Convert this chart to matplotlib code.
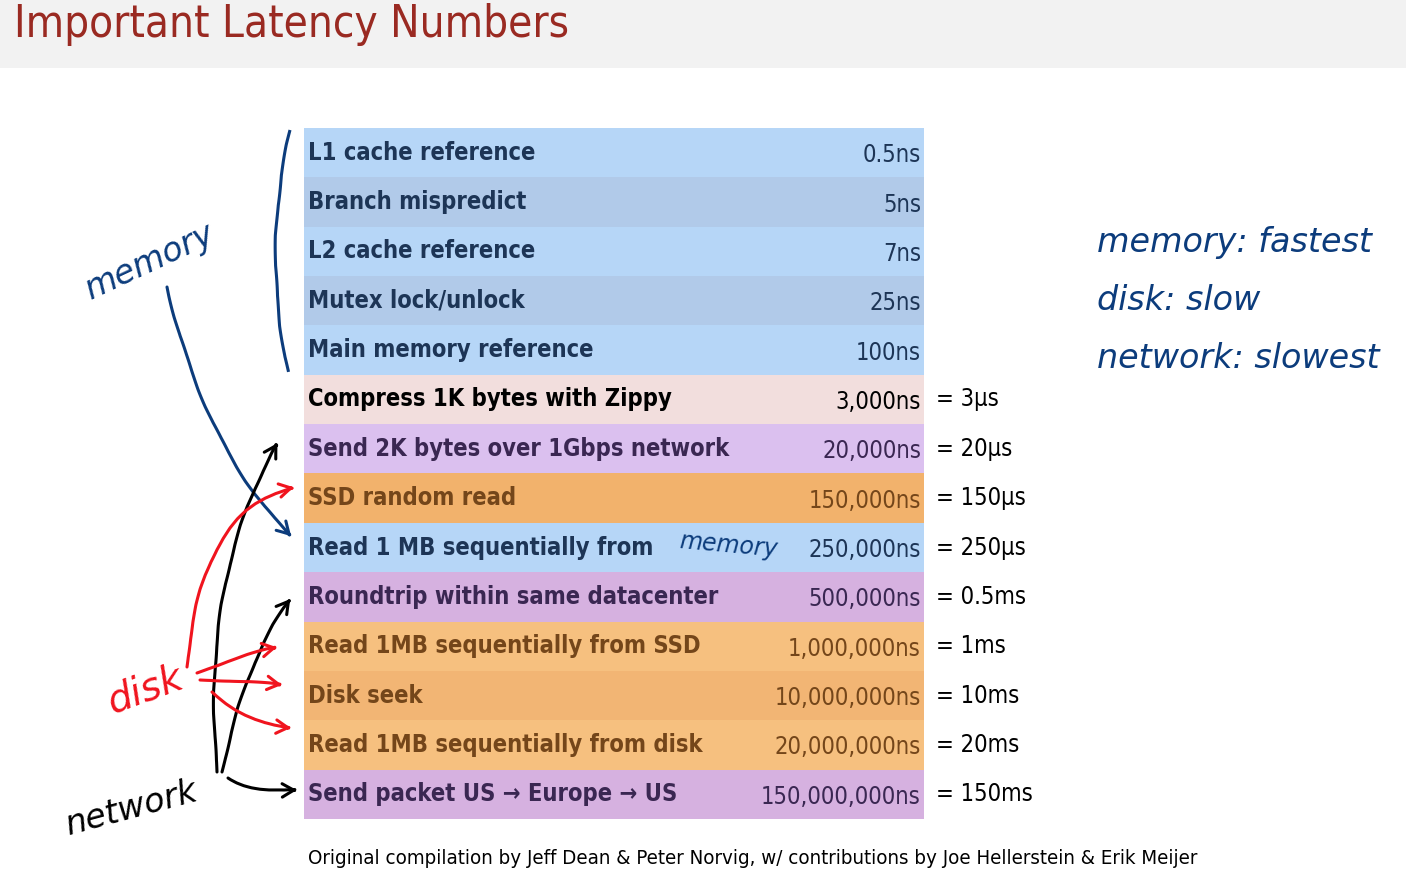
import matplotlib
matplotlib.use("Agg")
import matplotlib.pyplot as plt
from matplotlib.path import Path
from matplotlib.patches import FancyArrowPatch, PathPatch, Rectangle

plt.rcParams['font.family'] = ['DejaVu Sans']

# table data
operations = [
    'L1 cache reference', 'Branch mispredict', 'L2 cache reference',
    'Mutex lock/unlock', 'Main memory reference',
    'Compress 1K bytes with Zippy', 'Send 2K bytes over 1Gbps network',
    'SSD random read', 'Read 1 MB sequentially from',
    'Roundtrip within same datacenter', 'Read 1MB sequentially from SSD',
    'Disk seek', 'Read 1MB sequentially from disk',
    'Send packet US \u2192 Europe \u2192 US',
]
latency_ns = [
    '0.5ns', '5ns', '7ns', '25ns', '100ns', '3,000ns', '20,000ns',
    '150,000ns', '250,000ns', '500,000ns', '1,000,000ns', '10,000,000ns',
    '20,000,000ns', '150,000,000ns',
]
equivalent = [
    '', '', '', '', '', '= 3\u00b5s', '= 20\u00b5s', '= 150\u00b5s',
    '= 250\u00b5s', '= 0.5ms', '= 1ms', '= 10ms', '= 20ms', '= 150ms',
]
row_colors = [
    '#b6d6f7', '#b1cae9', '#b6d6f7', '#b1cae9', '#b6d6f7', '#f2dedd',
    '#dbc0ef', '#f2b26c', '#b6d6f7', '#d6b1e0', '#f6c07f', '#f2b574',
    '#f6c07f', '#d6b1e0',
]
text_colors = [
    '#1d3556', '#1d3556', '#1d3556', '#1d3556', '#1d3556', '#000000',
    '#3a2752', '#74461a', '#1d3556', '#3a2752', '#74461a', '#74461a',
    '#74461a', '#3a2752',
]

W, H = 1406, 871
fig = plt.figure(figsize=(W / 100, H / 100), dpi=100)
fig.patch.set_facecolor('white')

# the table itself
left, right, top, bottom = 304, 924, 128, 819
ax = fig.add_axes([left / W, 1 - bottom / H, (right - left) / W, (bottom - top) / H])
n = len(operations)
ax.barh(range(n), [1] * n, height=1.0, left=0, color=row_colors, lw=0)
ax.set_xlim(0, 1)
ax.set_ylim(n - 0.5, -0.5)
ax.axis('off')
for i in range(n):
    ax.text(0.006, i, operations[i], color=text_colors[i], fontsize=17,
            fontweight='bold', va='center', ha='left', fontstretch='condensed')
    ax.text(0.995, i + 0.05, latency_ns[i], color=text_colors[i], fontsize=17,
            va='center', ha='right', fontstretch='condensed')
    if equivalent[i]:
        ax.text(1.02, i, equivalent[i], color='black', fontsize=17,
                va='center', ha='left', fontstretch='condensed', clip_on=False)

# overlay in pixel coordinates for the slide decorations (on top of table)
deco = fig.add_axes([0, 0, 1, 1])
deco.set_xlim(0, W)
deco.set_ylim(H, 0)
deco.axis('off')
deco.add_patch(Rectangle((0, 0), W, 68, color='#f2f2f2', lw=0))
deco.text(14, 25, 'Important Latency Numbers', color='#9a2a22',
          fontsize=31.5, va='center', ha='left', fontstretch='condensed')

deco.text(308, 858, 'Original compilation by Jeff Dean & Peter Norvig, '
          'w/ contributions by Joe Hellerstein & Erik Meijer',
          fontsize=14.7, va='center', ha='left', fontstretch='condensed')

# hand drawn annotations
blue = '#0c3c7c'
red = '#f0141e'
sketch = (0.6, 90, 1)


def stroke(pts, color, arrow=True, lw=2.2):
    codes = [Path.MOVETO] + [Path.CURVE3] * (len(pts) - 1)
    path = Path(pts, codes)
    if arrow:
        p = FancyArrowPatch(path=path, arrowstyle='->,head_length=9,head_width=5',
                            color=color, lw=lw, mutation_scale=1)
    else:
        p = PathPatch(path, fill=False, edgecolor=color, lw=lw)
    p.set_sketch_params(*sketch)
    deco.add_patch(p)


stroke([(290, 130), (262, 250), (288, 372)], blue, arrow=False)
stroke([(167, 287), (205, 450), (292, 537)], blue)
stroke([(217, 772), (200, 580), (278, 442)], 'black')
stroke([(222, 772), (245, 660), (291, 598)], 'black')
stroke([(228, 778), (250, 792), (298, 790)], 'black')
stroke([(187, 667), (200, 510), (295, 487)], red)
stroke([(197, 673), (240, 655), (278, 647)], red)
stroke([(200, 680), (240, 680), (283, 685)], red)
stroke([(212, 692), (250, 725), (292, 728)], red)

hand = dict(fontstyle='italic', va='center', ha='center')
deco.text(150, 262, 'memory', color=blue, fontsize=24, rotation=25, **hand)
deco.text(145, 690, 'disk', color=red, fontsize=28, rotation=20, **hand)
deco.text(132, 808, 'network', color='black', fontsize=24, rotation=15, **hand)
deco.text(728, 545, 'memory', color=blue, fontsize=17, rotation=-5, **hand)

notes = ['memory: fastest', 'disk: slow', 'network: slowest']
for k, line in enumerate(notes):
    deco.text(1097, 242 + 58 * k, line, color=blue, fontsize=24,
              fontstyle='italic', va='center', ha='left')

fig.savefig('out.png', dpi=100, facecolor='white')
